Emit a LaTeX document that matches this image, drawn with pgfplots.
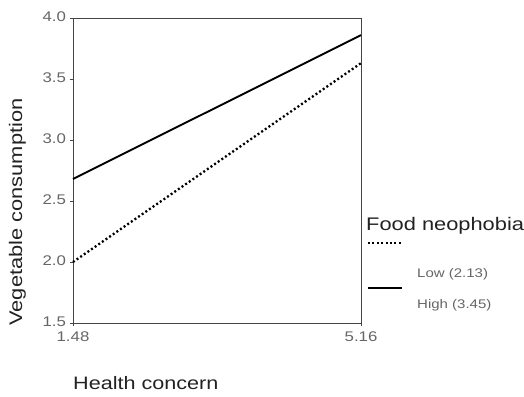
\documentclass[border=0pt]{standalone}
\usepackage{pgfplots}
\pgfplotsset{compat=1.18}
\usepackage{fontspec}
\setmainfont[FakeStretch=1.2]{Liberation Sans}
\definecolor{tickgray}{HTML}{666666}
\definecolor{axgray}{HTML}{444444}
\definecolor{txt}{HTML}{222222}
\begin{document}
\begin{tikzpicture}[x=1bp,y=1bp]
\useasboundingbox (0,0) rectangle (524,396);
\begin{axis}[
  at={(73bp,73bp)}, anchor=south west,
  scale only axis, width=288bp, height=305bp,
  xmin=1.48, xmax=5.16, ymin=1.5, ymax=4.0,
  xtick={1.48,5.16}, xticklabels={1.48,5.16},
  ytick={1.5,2.0,2.5,3.0,3.5,4.0},
  yticklabel style={xshift=-0.5bp, yshift=1.5bp, /pgf/number format/fixed, /pgf/number format/fixed zerofill, /pgf/number format/precision=1},
  /pgf/number format/assume math mode=true,
  tick label style={font=\fontsize{14bp}{16bp}\selectfont, text=tickgray},
  xticklabel style={yshift=-2bp},
  axis line style={axgray, line width=0.9bp},
  tick style={axgray, line width=0.9bp},
  tick align=outside, major tick length=3bp,
  xtick pos=bottom, ytick pos=left,
  clip=false,
]
\addplot[black, line width=1.9bp] coordinates {(1.48,2.68) (5.16,3.86)};
\addplot[black, line width=2.3bp, dash pattern=on 2bp off 2.4bp] coordinates {(1.48,2.0) (5.16,3.63)};
\end{axis}
% axis labels
\node[rotate=90, anchor=base, text=txt, font=\fontsize{18.2bp}{20bp}\selectfont] at (22,184) {Vegetable consumption};
\node[anchor=base west, inner sep=0pt, text=txt, font=\fontsize{18bp}{20bp}\selectfont] at (73,7) {Health concern};
% legend
\node[anchor=base west, inner sep=0pt, text=txt, font=\fontsize{18.2bp}{21bp}\selectfont] at (366,166) {Food neophobia};
\draw[black, line width=2.3bp, dash pattern=on 2bp off 2.4bp] (368,153) -- (402,153);
\node[anchor=base west, inner sep=0pt, text=tickgray, font=\fontsize{12.5bp}{14bp}\selectfont] at (417,119) {Low (2.13)};
\draw[black, line width=1.9bp] (368,108) -- (402,108);
\node[anchor=base west, inner sep=0pt, text=tickgray, font=\fontsize{12.5bp}{14bp}\selectfont] at (417,88) {High (3.45)};
\end{tikzpicture}
\end{document}
